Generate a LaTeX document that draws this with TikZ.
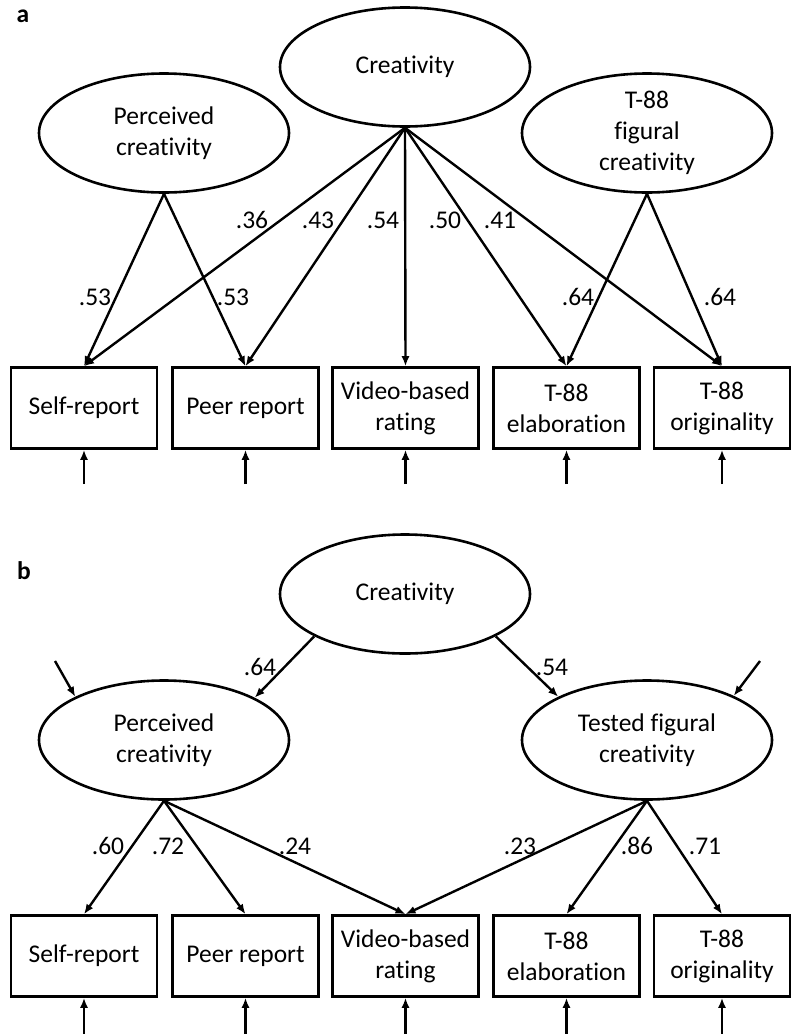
\documentclass[tikz,border=0pt]{standalone}
\usepackage{fontspec}
\setmainfont{Carlito}[Ligatures=NoCommon]
\usetikzlibrary{shapes.geometric,arrows.meta}
\begin{document}
\begin{tikzpicture}
    [
    x=1pt,y=-1pt,
    every node/.style={font=\fontsize{25.5}{31}\selectfont},
    latent/.style={ellipse,draw,line width=2.6pt,inner sep=0pt,minimum width=250pt,minimum height=119pt,align=center},
    observed/.style={rectangle,draw,line width=2.6pt,inner sep=0pt,minimum width=146pt,minimum height=81pt,align=center},
    load/.style={-{Latex[length=10pt,width=8pt]},line width=2.4pt},
    coef/.style={inner sep=0pt}
    ]
    \useasboundingbox (0,0) rectangle (791,1034);
    % panel a
    \node (tagA) at (23,16) {\bfseries a};
    \node (creaA) at (405,67) [latent] {Creativity};
    \node (percA) at (164,133) [latent] {Perceived\\creativity};
    \node (figA) at (647,133) [latent] {T-88\\figural\\creativity};
    \node (selfA) at (84,408) [observed] {Self-report};
    \node (peerA) at (245.5,408) [observed] {Peer report};
    \node (videoA) at (405.5,408) [observed] {Video-based\\rating};
    \node (elabA) at (566.5,408) [observed] {T-88\\elaboration};
    \node (origA) at (722,408) [observed,minimum width=136pt] {T-88\\originality};
    \coordinate (eselfA) at (84,484);
    \coordinate (epeerA) at (245.5,484);
    \coordinate (evideoA) at (405.5,484);
    \coordinate (eelabA) at (566.5,484);
    \coordinate (eorigA) at (722,484);
    \draw [load] (percA.south) to (selfA.north);
    \draw [load] (percA.south) to (peerA.north);
    \draw [load] (creaA.south) to (selfA.north);
    \draw [load] (creaA.south) to (peerA.north);
    \draw [load] (creaA.south) to (videoA.north);
    \draw [load] (creaA.south) to (elabA.north);
    \draw [load] (creaA.south) to (origA.north);
    \draw [load] (figA.south) to (elabA.north);
    \draw [load] (figA.south) to (origA.north);
    \draw [load] (eselfA) to (selfA.south);
    \draw [load] (epeerA) to (peerA.south);
    \draw [load] (evideoA) to (videoA.south);
    \draw [load] (eelabA) to (elabA.south);
    \draw [load] (eorigA) to (origA.south);
    \node (c36) at (252,220) [coef] {.36};
    \node (c43) at (318,220) [coef] {.43};
    \node (c54) at (383,220) [coef] {.54};
    \node (c50) at (445,220) [coef] {.50};
    \node (c41) at (500,220) [coef] {.41};
    \node (c53a) at (95,297) [coef] {.53};
    \node (c53b) at (233,297) [coef] {.53};
    \node (c64a) at (578,297) [coef] {.64};
    \node (c64b) at (720,297) [coef] {.64};
    % panel b
    \node (tagB) at (24,571) {\bfseries b};
    \node (creaB) at (405,594) [latent] {Creativity};
    \node (percB) at (164,740) [latent] {Perceived\\creativity};
    \node (testB) at (647,740) [latent] {Tested figural\\creativity};
    \node (selfB) at (84,956) [observed] {Self-report};
    \node (peerB) at (245.5,956) [observed] {Peer report};
    \node (videoB) at (405.5,956) [observed] {Video-based\\rating};
    \node (elabB) at (566.5,956) [observed] {T-88\\elaboration};
    \node (origB) at (722,956) [observed,minimum width=136pt] {T-88\\originality};
    \coordinate (epercB) at (55,661);
    \coordinate (etestB) at (760,661);
    \coordinate (eselfB) at (84,1034);
    \coordinate (epeerB) at (245.5,1034);
    \coordinate (evideoB) at (405.5,1034);
    \coordinate (eelabB) at (566.5,1034);
    \coordinate (eorigB) at (722,1034);
    \draw [load] (creaB.205) to (percB.25);
    \draw [load] (creaB.335) to (testB.154);
    \draw [load] (epercB) to (percB.154);
    \draw [load] (etestB) to (testB.27);
    \draw [load] (percB.south) to (selfB.north);
    \draw [load] (percB.south) to (peerB.north);
    \draw [load] (percB.south) to (videoB.north);
    \draw [load] (testB.south) to (videoB.north);
    \draw [load] (testB.south) to (elabB.north);
    \draw [load] (testB.south) to (origB.north);
    \draw [load] (eselfB) to (selfB.south);
    \draw [load] (epeerB) to (peerB.south);
    \draw [load] (evideoB) to (videoB.south);
    \draw [load] (eelabB) to (elabB.south);
    \draw [load] (eorigB) to (origB.south);
    \node (c64c) at (260,667) [coef] {.64};
    \node (c54b) at (552,667) [coef] {.54};
    \node (c60) at (108,846) [coef] {.60};
    \node (c72) at (168,846) [coef] {.72};
    \node (c24) at (295,846) [coef] {.24};
    \node (c23) at (520,846) [coef] {.23};
    \node (c86) at (637,846) [coef] {.86};
    \node (c71) at (705,846) [coef] {.71};
  \end{tikzpicture}
\end{document}
